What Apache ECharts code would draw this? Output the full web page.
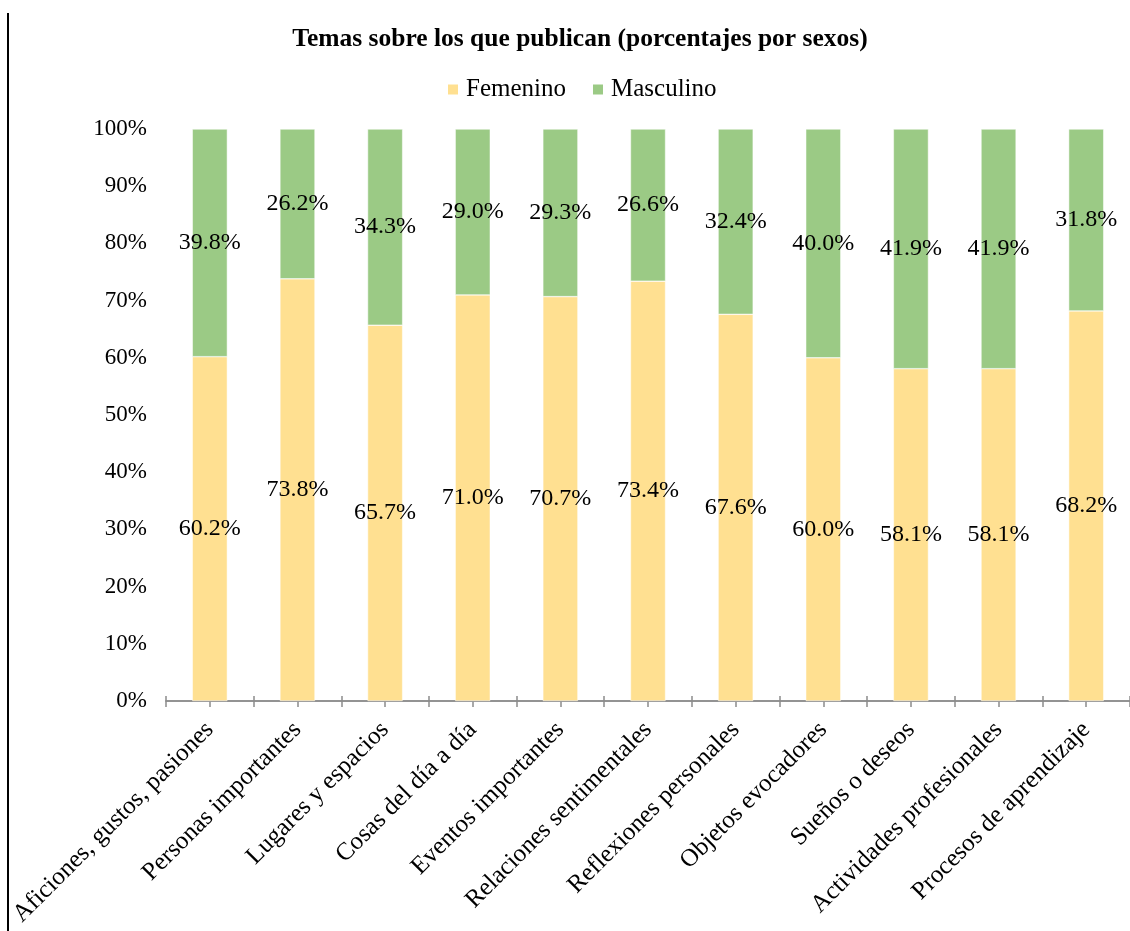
<!DOCTYPE html>
<html>
<head>
<meta charset="utf-8">
<script src="https://cdn.jsdelivr.net/npm/echarts@6/dist/echarts.min.js"></script>
<style>
  html, body { margin: 0; padding: 0; background: #fff; }
  #chart { width: 1130px; height: 931px; }
</style>
</head>
<body>
<div id="chart"></div>
<script>
// datos del gráfico
const categorias = [
  'Aficiones, gustos, pasiones', 'Personas importantes', 'Lugares y espacios',
  'Cosas del día a día', 'Eventos importantes', 'Relaciones sentimentales',
  'Reflexiones personales', 'Objetos evocadores', 'Sueños o deseos',
  'Actividades profesionales', 'Procesos de aprendizaje'
];
const femenino = [60.2, 73.8, 65.7, 71.0, 70.7, 73.4, 67.6, 60.0, 58.1, 58.1, 68.2];
const masculino = [39.8, 26.2, 34.3, 29.0, 29.3, 26.6, 32.4, 40.0, 41.9, 41.9, 31.8];

const fuente = "'Liberation Serif', 'Times New Roman', serif";
const myChart = echarts.init(document.getElementById('chart'));

// eje auxiliar para las marcas cada media categoría
const medias = categorias.flatMap(c => [c + 'a', c + 'b']);
const ejeAux = (inside) => ({
  type: 'category',
  data: medias,
  position: 'bottom',
  axisLine: { show: true, lineStyle: { color: '#8c8c8c', width: 1.5 } },
  axisTick: { show: true, interval: 0, inside: inside, length: inside ? 5 : 6, lineStyle: { color: '#8c8c8c', width: 1.5 } },
  axisLabel: { show: false },
  splitLine: { show: false }
});

const option = {
  backgroundColor: '#fff',
  textStyle: { fontFamily: fuente },
  title: {
    text: 'Temas sobre los que publican (porcentajes por sexos)',
    left: 575,
    textAlign: 'center',
    top: 21,
    textStyle: { fontFamily: fuente, fontWeight: 'bold', fontSize: 25.5, color: '#000' }
  },
  legend: {
    data: ['Femenino', 'Masculino'],
    left: 441,
    top: 72,
    itemWidth: 12,
    itemHeight: 12,
    itemGap: 25,
    icon: 'rect',
    textStyle: { fontFamily: fuente, fontSize: 25, color: '#000', padding: [0, 0, 0, 2] }
  },
  grid: { left: 166, top: 129, width: 968, height: 572, containLabel: false },
  graphic: [{
    type: 'line',
    shape: { x1: 8, y1: 13, x2: 8, y2: 931 },
    style: { stroke: '#000', lineWidth: 2 }
  }],
  xAxis: [
    {
      type: 'category',
      data: categorias,
      axisLine: { show: false },
      axisTick: { show: false },
      axisLabel: { rotate: 45, margin: 25, fontFamily: fuente, fontSize: 25, color: '#000', interval: 0 }
    },
    ejeAux(false),
    ejeAux(true)
  ],
  yAxis: {
    type: 'value',
    min: 0,
    max: 100,
    interval: 10,
    axisLine: { show: false },
    axisTick: { show: false },
    splitLine: { show: false },
    axisLabel: { formatter: '{value}%', margin: 19, fontFamily: fuente, fontSize: 23, color: '#000' }
  },
  series: [
    {
      name: 'Femenino',
      type: 'bar',
      stack: 'total',
      barWidth: '40%',
      data: femenino,
      itemStyle: { color: '#FFE091', borderColor: '#fff', borderWidth: 0.5 },
      label: {
        show: true, position: 'inside', formatter: p => p.value.toFixed(1) + '%',
        fontFamily: fuente, fontSize: 24, color: '#000'
      }
    },
    {
      name: 'Masculino',
      type: 'bar',
      stack: 'total',
      barWidth: '40%',
      data: masculino,
      itemStyle: { color: '#9BCA85', borderColor: '#fff', borderWidth: 0.5 },
      label: {
        show: true, position: 'inside', formatter: p => p.value.toFixed(1) + '%',
        fontFamily: fuente, fontSize: 24, color: '#000'
      }
    }
  ]
};

myChart.setOption(option);
</script>
</body>
</html>
